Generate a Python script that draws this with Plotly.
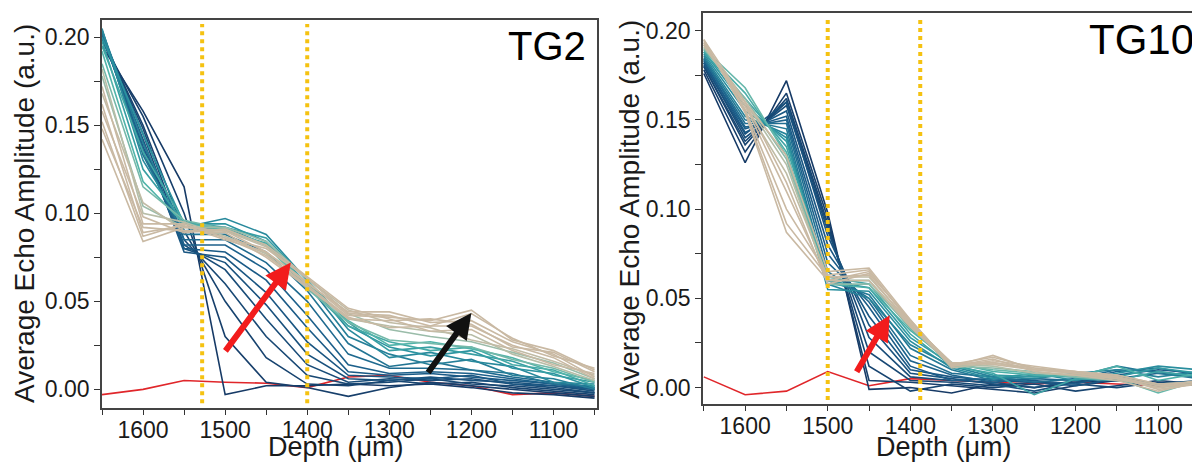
import plotly.graph_objects as go
from plotly.colors import sample_colorscale

# ---------------- data ----------------
depth = [1650, 1600, 1550, 1500, 1450, 1400, 1350, 1300, 1250, 1200, 1150, 1100, 1050]

tg2_series = [
    [0.195, 0.158, 0.115, -0.003, 0.002, 0.002, 0.003, 0.002, 0.003, 0.001, -0.002, -0.003, -0.005],
    [0.198, 0.155, 0.100, 0.030, 0.004, 0.001, -0.004, 0.001, 0.004, 0.002, 0.000, -0.002, -0.004],
    [0.200, 0.150, 0.090, 0.050, 0.018, 0.003, 0.002, 0.005, 0.003, 0.004, 0.001, -0.001, -0.003],
    [0.200, 0.148, 0.085, 0.060, 0.030, 0.008, 0.003, 0.004, 0.006, 0.003, 0.002, 0.000, -0.002],
    [0.202, 0.145, 0.082, 0.068, 0.040, 0.014, 0.004, 0.006, 0.005, 0.006, 0.003, 0.001, -0.002],
    [0.200, 0.142, 0.080, 0.072, 0.048, 0.020, 0.006, 0.005, 0.007, 0.005, 0.004, 0.002, -0.001],
    [0.203, 0.140, 0.078, 0.075, 0.055, 0.027, 0.008, 0.007, 0.006, 0.008, 0.003, 0.002, 0.000],
    [0.201, 0.138, 0.080, 0.078, 0.062, 0.035, 0.010, 0.008, 0.009, 0.007, 0.005, 0.003, 0.000],
    [0.204, 0.136, 0.082, 0.082, 0.068, 0.042, 0.014, 0.009, 0.010, 0.009, 0.006, 0.003, 0.001],
    [0.202, 0.135, 0.085, 0.085, 0.072, 0.050, 0.020, 0.012, 0.012, 0.011, 0.007, 0.004, 0.001],
    [0.203, 0.133, 0.088, 0.088, 0.078, 0.056, 0.026, 0.013, 0.016, 0.011, 0.009, 0.003, 0.002],
    [0.204, 0.140, 0.090, 0.092, 0.082, 0.060, 0.030, 0.020, 0.014, 0.017, 0.008, 0.006, 0.000],
    [0.205, 0.130, 0.092, 0.097, 0.088, 0.062, 0.034, 0.018, 0.021, 0.016, 0.013, 0.004, 0.003],
    [0.200, 0.145, 0.094, 0.094, 0.084, 0.060, 0.036, 0.024, 0.019, 0.022, 0.012, 0.009, 0.001],
    [0.198, 0.125, 0.095, 0.092, 0.086, 0.062, 0.038, 0.022, 0.024, 0.020, 0.016, 0.008, 0.004],
    [0.195, 0.135, 0.095, 0.090, 0.083, 0.058, 0.036, 0.027, 0.022, 0.024, 0.014, 0.011, 0.002],
    [0.192, 0.118, 0.094, 0.091, 0.082, 0.060, 0.039, 0.025, 0.027, 0.023, 0.018, 0.010, 0.005],
    [0.185, 0.115, 0.096, 0.091, 0.082, 0.057, 0.038, 0.028, 0.026, 0.024, 0.017, 0.012, 0.004],
    [0.178, 0.104, 0.092, 0.092, 0.084, 0.063, 0.043, 0.034, 0.030, 0.027, 0.021, 0.015, 0.006],
    [0.182, 0.100, 0.095, 0.087, 0.077, 0.058, 0.040, 0.036, 0.033, 0.031, 0.020, 0.013, 0.005],
    [0.168, 0.106, 0.090, 0.090, 0.081, 0.063, 0.045, 0.038, 0.035, 0.028, 0.023, 0.016, 0.008],
    [0.172, 0.094, 0.094, 0.086, 0.076, 0.059, 0.041, 0.035, 0.036, 0.036, 0.025, 0.018, 0.006],
    [0.158, 0.098, 0.089, 0.091, 0.082, 0.064, 0.046, 0.040, 0.033, 0.034, 0.022, 0.014, 0.009],
    [0.162, 0.089, 0.093, 0.085, 0.078, 0.060, 0.044, 0.044, 0.038, 0.039, 0.027, 0.020, 0.007],
    [0.148, 0.092, 0.090, 0.089, 0.075, 0.058, 0.040, 0.039, 0.040, 0.037, 0.024, 0.021, 0.010],
    [0.152, 0.087, 0.094, 0.086, 0.080, 0.063, 0.043, 0.042, 0.036, 0.043, 0.029, 0.019, 0.012],
    [0.142, 0.084, 0.092, 0.090, 0.078, 0.061, 0.042, 0.041, 0.039, 0.045, 0.028, 0.022, 0.011],
]
tg2_baseline = [-0.003, 0.000, 0.005, 0.004, 0.0035, 0.001, 0.007, 0.008, 0.004, 0.002, -0.003, -0.002, -0.004]

tg10_series = [
    [0.176, 0.126, 0.172, 0.098, -0.001, 0.000, -0.003, 0.002, 0.000, 0.003, 0.004, 0.003, 0.002],
    [0.178, 0.132, 0.165, 0.095, 0.004, 0.003, 0.001, -0.001, -0.003, 0.001, 0.004, 0.002, 0.003],
    [0.180, 0.136, 0.162, 0.092, 0.012, -0.002, 0.002, 0.000, 0.002, -0.002, 0.001, 0.004, 0.002],
    [0.180, 0.138, 0.160, 0.090, 0.020, 0.004, 0.003, 0.001, 0.003, 0.002, 0.000, 0.003, 0.001],
    [0.182, 0.140, 0.158, 0.088, 0.028, 0.006, 0.004, 0.003, 0.000, 0.004, 0.005, 0.001, 0.003],
    [0.181, 0.142, 0.160, 0.085, 0.035, 0.008, 0.005, 0.002, -0.002, 0.003, 0.006, 0.002, 0.004],
    [0.183, 0.143, 0.155, 0.080, 0.040, 0.010, 0.006, 0.004, 0.003, 0.001, 0.005, 0.008, 0.006],
    [0.182, 0.145, 0.152, 0.075, 0.045, 0.012, 0.004, 0.005, 0.004, 0.002, 0.007, 0.010, 0.008],
    [0.184, 0.146, 0.150, 0.070, 0.048, 0.015, 0.007, 0.003, 0.005, 0.004, 0.009, 0.011, 0.007],
    [0.184, 0.148, 0.148, 0.065, 0.050, 0.018, 0.008, 0.006, 0.003, 0.005, 0.010, 0.009, 0.006],
    [0.185, 0.150, 0.145, 0.060, 0.052, 0.022, 0.010, 0.004, 0.007, 0.006, 0.012, 0.008, 0.005],
    [0.186, 0.152, 0.142, 0.058, 0.050, 0.024, 0.012, 0.006, 0.005, 0.008, 0.010, 0.006, 0.009],
    [0.187, 0.155, 0.140, 0.055, 0.054, 0.026, 0.011, 0.005, 0.008, 0.004, 0.008, 0.012, 0.010],
    [0.188, 0.158, 0.138, 0.060, 0.056, 0.028, 0.013, 0.007, 0.006, 0.007, 0.006, 0.011, 0.008],
    [0.188, 0.162, 0.135, 0.062, 0.058, 0.030, 0.012, 0.008, -0.004, 0.005, 0.004, 0.009, 0.006],
    [0.189, 0.165, 0.132, 0.058, 0.056, 0.032, 0.014, 0.009, 0.007, 0.006, 0.012, 0.004, 0.008],
    [0.190, 0.168, 0.130, 0.060, 0.060, 0.033, 0.013, 0.010, 0.008, 0.007, 0.005, -0.003, 0.004],
    [0.190, 0.162, 0.128, 0.058, 0.058, 0.034, 0.012, 0.011, 0.009, 0.006, 0.004, 0.002, 0.003],
    [0.191, 0.160, 0.125, 0.060, 0.060, 0.035, 0.013, 0.012, 0.008, 0.007, 0.005, 0.000, 0.002],
    [0.192, 0.158, 0.120, 0.062, 0.062, 0.036, 0.011, 0.014, 0.010, 0.008, 0.006, 0.001, 0.004],
    [0.192, 0.160, 0.115, 0.058, 0.064, 0.038, 0.012, 0.016, 0.009, 0.007, 0.004, -0.002, 0.003],
    [0.193, 0.158, 0.110, 0.060, 0.065, 0.037, 0.013, 0.017, 0.011, 0.009, 0.006, 0.001, 0.002],
    [0.193, 0.156, 0.100, 0.063, 0.066, 0.036, 0.014, 0.013, 0.010, 0.008, 0.005, 0.000, 0.004],
    [0.194, 0.155, 0.092, 0.062, 0.063, 0.035, 0.012, 0.015, 0.012, 0.009, 0.007, 0.002, 0.003],
    [0.195, 0.154, 0.087, 0.060, 0.060, 0.034, 0.013, 0.014, 0.011, 0.008, 0.006, -0.001, 0.002],
    [0.195, 0.160, 0.130, 0.065, 0.067, 0.038, 0.012, 0.018, 0.010, 0.009, 0.007, 0.002, 0.003],
]
tg10_baseline = [0.006, -0.004, -0.002, 0.009, 0.001, 0.005, 0.004, 0.003, 0.002, 0.003, 0.002, 0.001, 0.002]

tg2_marker_depths = [1528, 1400]
tg10_marker_depths = [1500, 1388]

# arrows: (tail depth, tail amp, head depth, head amp, colour)
tg2_arrows = [(1501, 0.021, 1420, 0.072, "#f21c1c"), (1254, 0.0087, 1200, 0.0434, "#111111")]
tg10_arrows = [(1466, 0.008, 1425, 0.0406, "#f21c1c")]

y_tickvals = [0.00, 0.05, 0.10, 0.15, 0.20]
y_ticktext = ["0.00", "0.05", "0.10", "0.15", "0.20"]
x_tickvals = [1600, 1500, 1400, 1300, 1200, 1100]

panel_labels = ["TG2", "TG10"]
x_title = "Depth (\u03bcm)"
y_title = "Average Echo Amplitude (a.u.)"

# ---------------- style ----------------
FONT = "Liberation Sans, Arial, sans-serif"
TXT = "#1a1a1a"
scale = [[0.0, "#163a66"], [0.3, "#1b5e8a"], [0.5, "#2b93a0"], [0.62, "#52b5aa"],
         [0.72, "#b5bea8"], [0.8, "#c9b9a3"], [1.0, "#c9b9a3"]]

fig = go.Figure()


def add_panel(series, baseline, xa, ya):
    fig.add_trace(go.Scatter(x=depth, y=baseline, mode="lines", xaxis=xa, yaxis=ya,
                             line=dict(color="#e0262a", width=1.6), showlegend=False,
                             hoverinfo="skip"))
    n = len(series)
    cols = sample_colorscale(scale, [i / (n - 1) for i in range(n)])
    for s, c in zip(series, cols):
        fig.add_trace(go.Scatter(x=depth, y=s, mode="lines", xaxis=xa, yaxis=ya,
                                 line=dict(color=c, width=1.6), showlegend=False,
                                 hoverinfo="skip"))


add_panel(tg2_series, tg2_baseline, "x", "y")
add_panel(tg10_series, tg10_baseline, "x2", "y2")

shapes = []
for d in tg2_marker_depths:
    shapes.append(dict(type="line", xref="x", yref="y domain", x0=d, x1=d, y0=0.012, y1=0.99,
                       line=dict(color="#f5c211", width=4, dash="dot")))
for d in tg10_marker_depths:
    shapes.append(dict(type="line", xref="x2", yref="y2 domain", x0=d, x1=d, y0=0.01, y1=0.985,
                       line=dict(color="#f5c211", width=4, dash="dot")))

annotations = []
for arrows, xr, yr in [(tg2_arrows, "x", "y"), (tg10_arrows, "x2", "y2")]:
    for (tx, ty, hx, hy, col) in arrows:
        annotations.append(dict(x=hx, y=hy, ax=tx, ay=ty, xref=xr, yref=yr, axref=xr, ayref=yr,
                                text="", showarrow=True, arrowhead=2, arrowsize=0.85,
                                arrowwidth=6, arrowcolor=col, standoff=0, startstandoff=0))

annotations += [
    dict(text=panel_labels[0], xref="paper", yref="paper", x=588 / 1192, y=1 - 22 / 464,
         xanchor="right", yanchor="top", showarrow=False, font=dict(family=FONT, size=40, color="#000")),
    dict(text=panel_labels[1], xref="paper", yref="paper", x=1087 / 1192, y=1 - 14 / 464,
         xanchor="left", yanchor="top", showarrow=False, font=dict(family=FONT, size=42, color="#000")),
    dict(text=y_title, xref="paper", yref="paper", x=24 / 1192, y=1 - 214 / 464, textangle=-90,
         xanchor="center", yanchor="middle", showarrow=False, font=dict(family=FONT, size=28, color=TXT)),
    dict(text=y_title, xref="paper", yref="paper", x=629 / 1192, y=1 - 210 / 464, textangle=-90,
         xanchor="center", yanchor="middle", showarrow=False, font=dict(family=FONT, size=28, color=TXT)),
    dict(text=x_title, xref="paper", yref="paper", x=336 / 1192, y=0,
         xanchor="center", yanchor="bottom", showarrow=False, font=dict(family=FONT, size=27, color=TXT)),
    dict(text=x_title, xref="paper", yref="paper", x=944 / 1192, y=0,
         xanchor="center", yanchor="bottom", showarrow=False, font=dict(family=FONT, size=27, color=TXT)),
]


def xaxis_cfg(domain, rng, anchor):
    return dict(domain=domain, range=rng, anchor=anchor, tickmode="array", tickvals=x_tickvals,
                ticks="outside", ticklen=5, tickwidth=1.3, tickcolor="#333",
                minor=dict(tickmode="linear", tick0=1050, dtick=50, ticks="outside", ticklen=5,
                           tickwidth=1.3, tickcolor="#333", showgrid=False),
                showline=True, linecolor="#444", linewidth=1.6, mirror=True,
                showgrid=False, zeroline=False, ticklabelstandoff=-4,
                tickfont=dict(family=FONT, size=23, color=TXT))


def yaxis_cfg(domain, rng, anchor, mirror):
    return dict(domain=domain, range=rng, anchor=anchor, tickmode="array", tickvals=y_tickvals,
                ticktext=y_ticktext, ticks="outside", ticklen=6, tickwidth=1.3, tickcolor="#333",
                minor=dict(tickmode="linear", tick0=0.025, dtick=0.05, ticks="outside", ticklen=6,
                           tickwidth=1.3, tickcolor="#333", showgrid=False),
                showline=True, linecolor="#444", linewidth=1.6, mirror=mirror,
                showgrid=False, zeroline=False,
                tickfont=dict(family=FONT, size=23, color=TXT))


fig.update_layout(
    width=1192, height=464,
    margin=dict(l=0, r=0, t=0, b=0),
    paper_bgcolor="white", plot_bgcolor="white",
    xaxis=xaxis_cfg([102 / 1192, 597 / 1192], [1650, 1047], "y"),
    yaxis=yaxis_cfg([56 / 464, 444 / 464], [-0.0106, 0.2098], "x", True),
    xaxis2=xaxis_cfg([703 / 1192, 1.0], [1651, 1059], "y2"),
    yaxis2=yaxis_cfg([60 / 464, 451 / 464], [-0.0092, 0.2099], "x2", False),
    shapes=shapes,
    annotations=annotations,
    showlegend=False,
)

fig.write_html("out.html")
